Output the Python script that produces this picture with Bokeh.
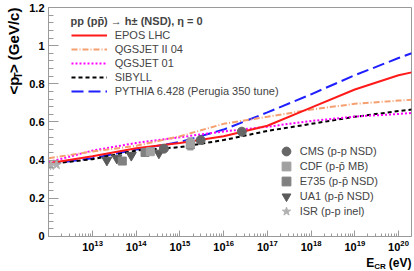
import math
from bokeh.plotting import figure
from bokeh.layouts import row, column
from bokeh.models import Legend, LegendItem, FixedTicker, Range1d, Label
from bokeh.core.properties import value
from bokeh.embed import file_html
from bokeh.resources import INLINE

# ---------------- data ----------------
# model predictions: cosmic-ray energy (eV) vs <pT> (GeV/c)
E_MODEL = [1e12, 1e13, 1e14, 1e15, 1e16, 1e17, 1e18, 1e19, 1e20, 2.0e20]
EPOS_LHC = [0.383, 0.420, 0.462, 0.490, 0.525, 0.580, 0.675, 0.770, 0.845, 0.860]
QGSJET_II_04 = [0.410, 0.445, 0.475, 0.525, 0.590, 0.627, 0.665, 0.695, 0.712, 0.716]
QGSJET_01 = [0.390, 0.450, 0.490, 0.520, 0.550, 0.575, 0.605, 0.628, 0.642, 0.647]
SIBYLL = [0.380, 0.405, 0.450, 0.468, 0.505, 0.553, 0.590, 0.627, 0.657, 0.665]
PYTHIA = [0.380, 0.410, 0.455, 0.495, 0.560, 0.650, 0.745, 0.845, 0.935, 0.960]

# measurements
CMS_E = [4.3e14, 2.97e15, 2.6e16]
CMS_PT = [0.460, 0.505, 0.549]
CDF_E = [2.1e14, 1.73e15]
CDF_PT = [0.444, 0.485]
CDF_ERR = [0.008, 0.035]
E735_E = [4.8e13, 1.59e14, 1.73e15]
E735_PT = [0.395, 0.440, 0.480]
UA1_E = [2.13e13, 3.6e13, 7.7e13, 3.3e14]
UA1_PT = [0.400, 0.410, 0.425, 0.437]
ISR_E = [1.1e12, 1.5e12]
ISR_PT = [0.372, 0.376]
ISR_ERR = [0.025, 0.012]

Y_TICKS = [0, 0.2, 0.4, 0.6, 0.8, 1.0, 1.2]
X_TICKS = [1e13, 1e14, 1e15, 1e16, 1e17, 1e18, 1e19, 1e20]

FONT = "Liberation Sans"
GRAY = "#9a9a9a"

# ---------------- main figure ----------------
p = figure(frame_width=363, frame_height=229, x_axis_type="log",
           x_range=Range1d(10 ** 11.993, 10 ** 20.297), y_range=Range1d(-0.0005, 1.2),
           output_backend="svg", toolbar_location=None,
           min_border_left=24, min_border_right=3, min_border_top=7, min_border_bottom=19)
p.grid.visible = False
p.outline_line_color = GRAY
p.background_fill_color = "white"
p.border_fill_color = "white"

minor_x = [m * 10 ** k for k in range(11, 21) for m in range(2, 10)]
p.xaxis.ticker = FixedTicker(ticks=X_TICKS, minor_ticks=minor_x)
p.yaxis.ticker = FixedTicker(ticks=Y_TICKS, minor_ticks=[i * 0.04 for i in range(31)])
p.yaxis.major_label_overrides = {0: "0", 1: "1"}

for ax in (p.xaxis[0], p.yaxis[0]):
    ax.axis_line_color = GRAY
    ax.major_tick_line_color = GRAY
    ax.minor_tick_line_color = GRAY
    ax.major_tick_out = 0
    ax.minor_tick_out = 0
    ax.major_label_text_font = FONT
    ax.major_label_text_font_style = "bold"
    ax.major_label_text_font_size = "11px"
    ax.major_label_text_color = "black"
p.xaxis.major_tick_in = 6
p.xaxis.minor_tick_in = 3
p.xaxis.major_label_standoff = 3
p.yaxis.major_tick_in = 10
p.yaxis.minor_tick_in = 5
p.yaxis.major_label_standoff = 4

# ---------------- model curves ----------------
r_pythia = p.line(E_MODEL, PYTHIA, line_color="#1f1fff", line_width=2, line_dash="12 5")
r_sib = p.line(E_MODEL, SIBYLL, line_color="black", line_width=2, line_dash="4 3")
r_q01 = p.line(E_MODEL, QGSJET_01, line_color="#ff00ff", line_width=2, line_dash="2 2")
r_q2 = p.line(E_MODEL, QGSJET_II_04, line_color="#f5a070", line_width=2, line_dash="6 2 1 2")
r_epos = p.line(E_MODEL, EPOS_LHC, line_color="#ff1a1a", line_width=2)

# ---------------- data points ----------------
p.segment(x0=CDF_E, x1=CDF_E, y0=[v - e for v, e in zip(CDF_PT, CDF_ERR)],
          y1=[v + e for v, e in zip(CDF_PT, CDF_ERR)], line_color="#a0a0a0", line_width=6)
p.segment(x0=ISR_E, x1=ISR_E, y0=[v - e for v, e in zip(ISR_PT, ISR_ERR)],
          y1=[v + e for v, e in zip(ISR_PT, ISR_ERR)], line_color="#b0b0b0", line_width=1)
r_isr = p.scatter(ISR_E, ISR_PT, marker="star", size=10, fill_color="#b0b0b0", line_color="#b0b0b0")
r_ua1 = p.scatter(UA1_E, UA1_PT, marker="inverted_triangle", size=10, fill_color="#5a5a5a", line_color="#5a5a5a")
r_e735 = p.scatter(E735_E, E735_PT, marker="square", size=8, fill_color="#808080", line_color="#808080")
r_cdf = p.scatter(CDF_E, CDF_PT, marker="square", size=8, fill_color="#a0a0a0", line_color="#a0a0a0")
r_cms = p.scatter(CMS_E, CMS_PT, marker="circle", size=9, fill_color="#666666", line_color="#666666")

# ---------------- legends ----------------
p.add_layout(Label(x=22, y=216, x_units="screen", y_units="screen",
                   text="pp (pp\u0304) \u2192 h\u00b1 (NSD), \u03b7 = 0",
                   text_font=FONT, text_font_style="bold", text_font_size="11px",
                   text_baseline="middle", text_align="left"))

leg1 = Legend(items=[
    LegendItem(label="EPOS LHC", renderers=[r_epos]),
    LegendItem(label="QGSJET II 04", renderers=[r_q2]),
    LegendItem(label="QGSJET 01", renderers=[r_q01]),
    LegendItem(label="SIBYLL", renderers=[r_sib]),
    LegendItem(label="PYTHIA 6.428 (Perugia 350 tune)", renderers=[r_pythia]),
], location=(22.7, 139.3),
    label_text_font=FONT, label_text_font_size="11px",
    glyph_width=36, glyph_height=12, label_height=12, spacing=2, label_standoff=8,
    padding=0, margin=0, border_line_color=None, background_fill_alpha=0)
p.add_layout(leg1)

marker_entries = [("CMS (p-p NSD)", r_cms), ("CDF (p-p\u0304 MB)", r_cdf),
                  ("E735 (p-p\u0304 NSD)", r_e735), ("UA1 (p-p\u0304 NSD)", r_ua1),
                  ("ISR (p-p inel)", r_isr)]
for i, (lbl, rr) in enumerate(marker_entries):
    p.add_layout(Legend(items=[LegendItem(label=lbl, renderers=[rr])],
                        location=(226.7, 74.3 - 15.1 * i),
                        label_text_font=FONT, label_text_font_size="11px",
                        glyph_width=22, glyph_height=22, label_height=13, spacing=0,
                        label_standoff=3, padding=0, margin=0,
                        border_line_color=None, background_fill_alpha=0))

# ---------------- axis titles (text strips beside the plot) ----------------
def strip(w, h):
    f = figure(width=w, height=h, x_range=Range1d(0, w), y_range=Range1d(0, h),
               output_backend="svg", toolbar_location=None,
               x_axis_location=None, y_axis_location=None,
               min_border_left=0, min_border_right=0, min_border_top=0, min_border_bottom=0)
    f.grid.visible = False
    f.outline_line_color = None
    f.background_fill_color = "white"
    f.border_fill_color = "white"
    return f

def txt(f, x, y, s, size, angle=0.0, baseline="middle"):
    f.text(x=[x], y=[y], text=[s], angle=angle, text_font=value(FONT),
           text_font_style="bold", text_font_size=size, text_align="left",
           text_baseline=baseline, text_color="black")

yfig = strip(24, 255)
txt(yfig, 13, 158, "<p", "15px", angle=math.pi / 2)
txt(yfig, 17.5, 176, "T", "10px", angle=math.pi / 2)
txt(yfig, 13, 182, "> (GeV/c)", "15px", angle=math.pi / 2)

xfig = strip(414, 16)
txt(xfig, 365.7, 8.5, "E", "12px", baseline="alphabetic")
txt(xfig, 373.7, 5.0, "CR", "8px", baseline="alphabetic")
txt(xfig, 388.3, 8.5, "(eV)", "12px", baseline="alphabetic")

layout = column(row(yfig, p, spacing=0), xfig, spacing=0)

open("out.html", "w").write(file_html(layout, INLINE))
